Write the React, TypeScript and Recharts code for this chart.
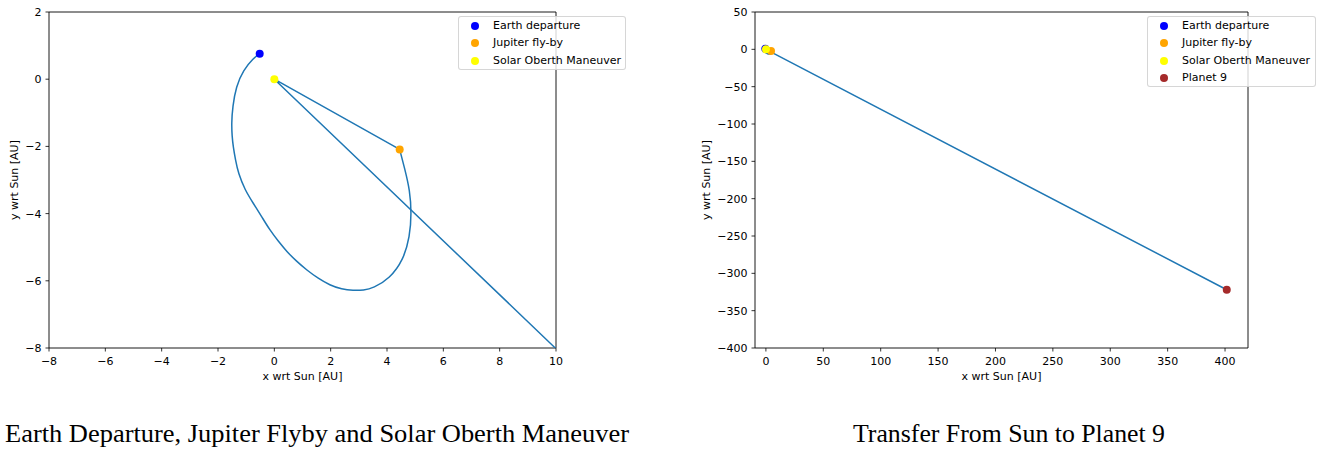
import { ComposedChart, Line, Scatter, XAxis, YAxis, ReferenceArea, Label } from 'recharts'

// trajectory: Earth departure -> Jupiter (curved arc), then Jupiter -> Sun (Oberth) -> Planet 9 (straight)
const arcX = [-0.52, -0.75, -1.1, -1.36, -1.48, -1.52, -1.5, -1.46, -1.38, -1.28, -1.04, -0.75, -0.45, -0.16, 0.14, 0.44, 0.79, 1.15, 1.56, 1.97, 2.39, 2.8, 3.17, 3.51, 4.1, 4.58, 4.81, 4.87, 4.81, 4.64, 4.45]
const arcY = [0.76, 0.62, 0.27, -0.22, -0.82, -1.31, -1.7, -2.01, -2.4, -2.8, -3.3, -3.69, -4.09, -4.49, -4.82, -5.13, -5.42, -5.68, -5.93, -6.13, -6.25, -6.29, -6.28, -6.22, -5.93, -5.38, -4.69, -3.99, -3.3, -2.7, -2.09]
const cruiseX = [4.45, 0, 401.5]
const cruiseY = [-2.09, 0, -322]

const eventNames = ['Earth departure', 'Jupiter fly-by', 'Solar Oberth Maneuver', 'Planet 9']
const eventColors = ['#0000ff', '#ffa500', '#ffff00', '#a52a2a']
const eventX = [-0.52, 4.45, 0, 401.5]
const eventY = [0.76, -2.09, 0, -322]

const leftXTicks = [-8, -6, -4, -2, 0, 2, 4, 6, 8, 10]
const leftYTicks = [2, 0, -2, -4, -6, -8]
const rightXTicks = [0, 50, 100, 150, 200, 250, 300, 350, 400]
const rightYTicks = [50, 0, -50, -100, -150, -200, -250, -300, -350, -400]

const captions = ['Earth Departure, Jupiter Flyby and Solar Oberth Maneuver', 'Transfer From Sun to Planet 9']

const arc = arcX.map((x, i) => ({ x, y: arcY[i] }))
const cruise = cruiseX.map((x, i) => ({ x, y: cruiseY[i] }))

const fmt = (v: number) => String(v).replace('-', '\u2212')
const tickFont = { fontSize: 11, fill: '#000', fontFamily: 'DejaVu Sans' }
const LINE = '#1f77b4'

interface PanelProps {
  left: number
  plotRight: number
  yAxisWidth: number
  xDomain: [number, number]
  yDomain: [number, number]
  xTicks: number[]
  yTicks: number[]
  events: number
  yLabelX: number
}

function Panel({ left, plotRight, yAxisWidth, xDomain, yDomain, xTicks, yTicks, events, yLabelX }: PanelProps) {
  const width = plotRight + 24
  const xLabelX = yAxisWidth + (plotRight - yAxisWidth) / 2
  return (
    <div style={{ position: 'absolute', left, top: 0 }}>
      <ComposedChart width={width} height={390} margin={{ top: 12, right: 24, bottom: 0, left: 0 }}>
        <XAxis
          type="number"
          dataKey="x"
          domain={xDomain}
          ticks={xTicks}
          interval={0}
          allowDataOverflow
          height={42}
          axisLine={false}
          tickSize={3.5}
          tickMargin={6}
          tick={tickFont}
          tickLine={{ stroke: '#000', strokeWidth: 0.8 }}
          tickFormatter={fmt}
        >
          <Label
            content={() => (
              <text x={xLabelX} y={376} textAnchor="middle" dominantBaseline="central" style={tickFont}>
                x wrt Sun [AU]
              </text>
            )}
          />
        </XAxis>
        <YAxis
          type="number"
          dataKey="y"
          domain={yDomain}
          ticks={yTicks}
          interval={0}
          allowDataOverflow
          width={yAxisWidth}
          axisLine={false}
          tickSize={3.5}
          tickMargin={4}
          tick={tickFont}
          tickLine={{ stroke: '#000', strokeWidth: 0.8 }}
          tickFormatter={fmt}
        >
          <Label
            content={() => (
              <text
                x={yLabelX}
                y={180}
                textAnchor="middle"
                dominantBaseline="central"
                transform={`rotate(-90 ${yLabelX} 180)`}
                style={tickFont}
              >
                y wrt Sun [AU]
              </text>
            )}
          />
        </YAxis>
        <Line data={arc} dataKey="y" type="basis" stroke={LINE} strokeWidth={1.5} dot={false} activeDot={false} isAnimationActive={false} />
        <Line data={cruise} dataKey="y" type="linear" stroke={LINE} strokeWidth={1.5} dot={false} activeDot={false} isAnimationActive={false} />
        {eventNames.slice(0, events).map((name, i) => (
          <Scatter
            key={name}
            name={name}
            data={[{ x: eventX[i], y: eventY[i] }]}
            fill={eventColors[i]}
            isAnimationActive={false}
            shape={(p: any) => <circle cx={p.cx} cy={p.cy} r={4} fill={eventColors[i]} />}
          />
        ))}
        <ReferenceArea
          x1={xDomain[0]}
          x2={xDomain[1]}
          y1={yDomain[0]}
          y2={yDomain[1]}
          fill="none"
          fillOpacity={0}
          stroke="#000"
          strokeWidth={0.9}
          ifOverflow="visible"
        />
      </ComposedChart>
    </div>
  )
}

function LegendBox({ left, width, count }: { left: number; width: number; count: number }) {
  return (
    <div
      style={{
        position: 'absolute',
        left,
        top: 16,
        width,
        height: count * 17.3 + 2,
        background: 'rgba(255,255,255,0.8)',
        border: '1px solid rgba(204,204,204,0.8)',
        borderRadius: 3,
        boxSizing: 'border-box',
        fontFamily: 'DejaVu Sans',
        fontSize: 11,
        color: '#000',
      }}
    >
      {eventNames.slice(0, count).map((name, i) => (
        <div key={name} style={{ position: 'absolute', left: 0, top: 1 + i * 17.3, height: 17, width: '100%' }}>
          <span
            style={{
              position: 'absolute',
              left: 12,
              top: 4,
              width: 8,
              height: 8,
              borderRadius: '50%',
              background: eventColors[i],
            }}
          />
          <span style={{ position: 'absolute', left: 34, top: 1, lineHeight: '14px', whiteSpace: 'nowrap' }}>{name}</span>
        </div>
      ))}
    </div>
  )
}

export default function App() {
  return (
    <div style={{ position: 'absolute', left: 0, top: 0, width: 1320, height: 452, background: '#fff', overflow: 'hidden' }}>
      <Panel
        left={0}
        plotRight={556}
        yAxisWidth={49}
        xDomain={[-8, 10]}
        yDomain={[-8, 2]}
        xTicks={leftXTicks}
        yTicks={leftYTicks}
        events={3}
        yLabelX={14}
      />
      <Panel
        left={690}
        plotRight={558}
        yAxisWidth={65}
        xDomain={[-9.5, 420]}
        yDomain={[-400, 50]}
        xTicks={rightXTicks}
        yTicks={rightYTicks}
        events={4}
        yLabelX={16}
      />
      <LegendBox left={458} width={168} count={3} />
      <LegendBox left={1147} width={169} count={4} />
      <svg width={1320} height={452} style={{ position: 'absolute', left: 0, top: 0, pointerEvents: 'none' }}>
        <text x={317} y={442} textAnchor="middle" fontFamily="Liberation Serif" fontSize={25} fill="#000" textLength={624} lengthAdjust="spacingAndGlyphs">
          {captions[0]}
        </text>
        <text x={1009} y={442} textAnchor="middle" fontFamily="Liberation Serif" fontSize={25} fill="#000" textLength={312} lengthAdjust="spacingAndGlyphs">
          {captions[1]}
        </text>
      </svg>
    </div>
  )
}
